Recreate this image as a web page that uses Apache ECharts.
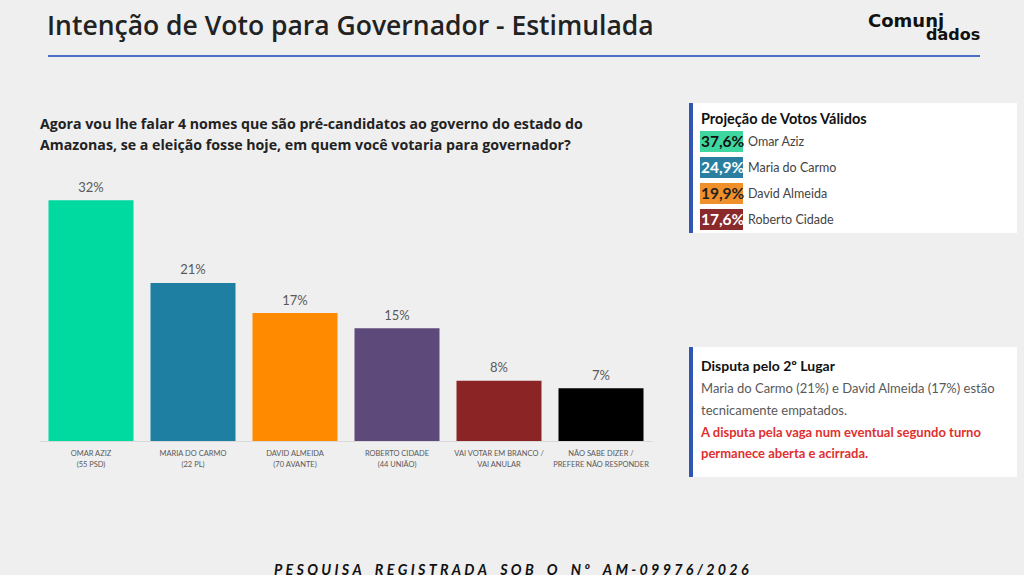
<!DOCTYPE html>
<html>
<head>
<meta charset="utf-8">
<script src="https://cdn.jsdelivr.net/npm/echarts@6/dist/echarts.min.js"></script>
<style>
html,body{margin:0;padding:0;background:#efefef;}
#c{width:1024px;height:575px;}
</style>
</head>
<body>
<div id="c"></div>
<script>
const categories = ['OMAR AZIZ\n(55 PSD)', 'MARIA DO CARMO\n(22 PL)', 'DAVID ALMEIDA\n(70 AVANTE)', 'ROBERTO CIDADE\n(44 UNIÃO)', 'VAI VOTAR EM BRANCO /\nVAI ANULAR', 'NÃO SABE DIZER /\nPREFERE NÃO RESPONDER'];
const values = [32, 21, 17, 15, 8, 7];
const barColors = ['#00d9a0', '#1f7fa3', '#ff8a00', '#5e4a7a', '#8b2425', '#000000'];

const validNames = ['Omar Aziz', 'Maria do Carmo', 'David Almeida', 'Roberto Cidade'];
const validValues = ['37,6%', '24,9%', '19,9%', '17,6%'];
const validColors = ['#3fd6a0', '#2a7fa0', '#f0902a', '#8b2a2a'];
const validTextColors = ['#111111', '#ffffff', '#222222', '#ffffff'];

const FONT = 'Lato';
const chart = echarts.init(document.getElementById('c'), null, {renderer: 'svg'});

function spaced(s) {
  const sp = '\u2005';
  return s.split(' ').map(w => Array.from(w).join(sp)).join(sp + sp + sp + sp);
}

const graphics = [];
// title
graphics.push({type:'text', left:47, top:11, style:{text:'Intenção de Voto para Governador - Estimulada', font:'600 26.5px "Open Sans"', fill:'#222'}});
graphics.push({type:'rect', shape:{x:48, y:55, width:932, height:2}, style:{fill:'#4a6fc4'}});
// logo (single rich text)
graphics.push({type:'text', left:868, top:11, style:{
  text:'{a|Comunj}\n{b|dados}',
  rich:{
    a:{font:'bold 18px "DejaVu Sans"', fill:'#111', lineHeight:14},
    b:{font:'bold 16px "DejaVu Sans"', fill:'#111', lineHeight:14, padding:[0,0,0,58]}
  }
}});
// question
graphics.push({type:'text', left:40, top:113, style:{text:'Agora vou lhe falar 4 nomes que são pré-candidatos ao governo do estado do\nAmazonas, se a eleição fosse hoje, em quem você votaria para governador?', font:'bold 14.2px "Open Sans"', fill:'#222', lineHeight:21}});
// panel 1
graphics.push({type:'rect', shape:{x:693, y:103, width:324, height:130}, style:{fill:'#ffffff'}});
graphics.push({type:'rect', shape:{x:689, y:103, width:4, height:130}, style:{fill:'#2f55b5'}});
graphics.push({type:'text', left:701, top:111, style:{text:'Projeção de Votos Válidos', font:'bold 14.5px ' + FONT, fill:'#111'}});
validNames.forEach((n, i) => {
  const y = 131 + i * 26;
  graphics.push({type:'rect', shape:{x:700, y:y, width:43, height:21}, style:{fill:validColors[i]}});
  graphics.push({type:'text', left:701, top:y + 2, style:{text:validValues[i], font:'bold 15.5px ' + FONT, fill:validTextColors[i]}});
  graphics.push({type:'text', left:748, top:y + 4, style:{text:n, font:'12.5px ' + FONT, fill:'#444'}});
});
// panel 2
graphics.push({type:'rect', shape:{x:693, y:347, width:324, height:130}, style:{fill:'#ffffff'}});
graphics.push({type:'rect', shape:{x:689, y:347, width:4, height:130}, style:{fill:'#2f55b5'}});
graphics.push({type:'text', left:701, top:358, style:{text:'Disputa pelo 2º Lugar', font:'bold 14px ' + FONT, fill:'#111'}});
graphics.push({type:'text', left:701, top:377, style:{text:'Maria do Carmo (21%) e David Almeida (17%) estão\ntecnicamente empatados.', font:'13px ' + FONT, fill:'#595959', lineHeight:22}});
graphics.push({type:'text', left:701, top:421, style:{text:'A disputa pela vaga num eventual segundo turno\npermanece aberta e acirrada.', font:'bold 13px ' + FONT, fill:'#e03030', lineHeight:21}});
// footer
graphics.push({type:'text', left:274, top:562, style:{text:spaced('PESQUISA REGISTRADA SOB O Nº AM-09976/2026'), font:'italic bold 14.3px ' + FONT, fill:'#111'}});

chart.setOption({
  backgroundColor:'#efefef',
  animation:false,
  grid:{left:40, width:612, top:140, height:301},
  xAxis:{type:'category', data:categories,
    axisLine:{lineStyle:{color:'#d9d9d9', width:1}}, axisTick:{show:false},
    axisLabel:{color:'#595959', fontSize:7.5, fontFamily:FONT, lineHeight:11, margin:7, interval:0}},
  yAxis:{type:'value', min:0, max:40, show:false, splitLine:{show:false}},
  series:[{type:'bar', data:values.map((v,i)=>({value:v, itemStyle:{color:barColors[i]}})), barWidth:85,
    label:{show:true, position:'top', distance:7, formatter:'{c}%', color:'#595959', fontSize:13, fontFamily:FONT}}],
  graphic:graphics
});
</script>
</body>
</html>
